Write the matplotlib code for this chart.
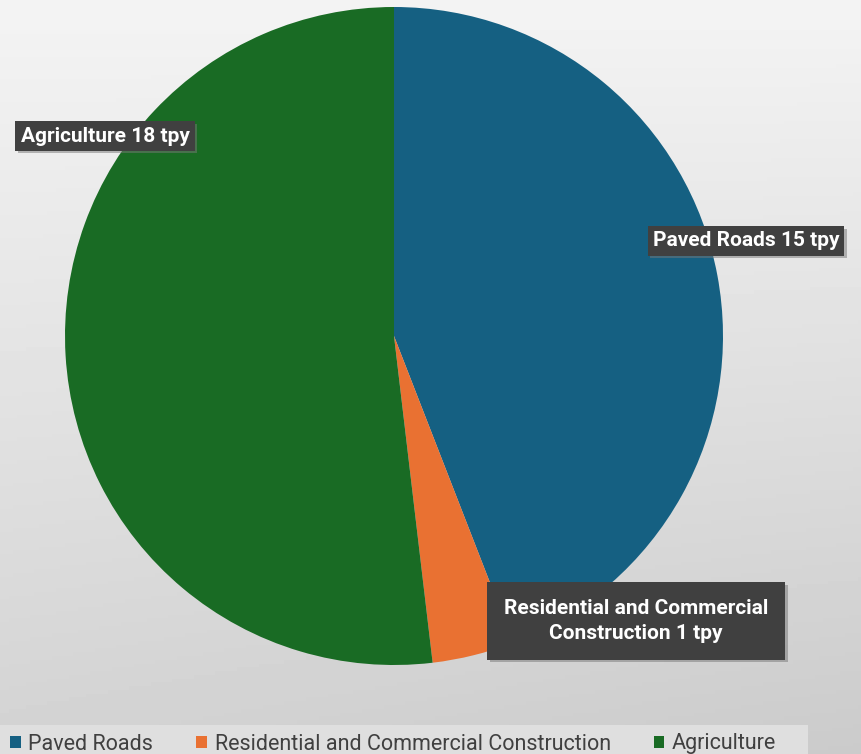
import matplotlib
matplotlib.use("Agg")
import matplotlib.pyplot as plt
import matplotlib.patheffects as pe
import numpy as np
from matplotlib.patches import Rectangle


categories = ["Paved Roads", "Residential and Commercial Construction", "Agriculture"]
emissions_tpy = [15.3, 1.4, 18.0]
slice_colors = ["#156082", "#E97132", "#196B24"]
label_texts = ["Paved Roads {:.0f} tpy",
               "Residential and Commercial\nConstruction {:.0f} tpy",
               "Agriculture {:.0f} tpy"]

W, H = 862, 754
FONT = ["Roboto", "DejaVu Sans"]

fig = plt.figure(figsize=(W / 100, H / 100), dpi=100)

# background: soft grey gradient, lighter at the top
bg = fig.add_axes([0, 0, 1, 1], zorder=0)
yy, xx = np.mgrid[0:1:200j, 0:1:200j]
shade = 0.955 - 0.13 * yy - 0.03 * xx * yy
bg.imshow(shade, cmap="gray", vmin=0, vmax=1, aspect="auto", extent=[0, 1, 0, 1], origin="upper")
bg.add_patch(Rectangle((0, 0), 808 / W, 29 / H, facecolor="#dfdfdf", edgecolor="none"))
bg.set_xlim(0, 1)
bg.set_ylim(0, 1)
bg.set_axis_off()

# pie axes: centre at (394, 336) px, radius 329 px
cx, cy, r = 394, 336, 329
ax = fig.add_axes([(cx - r) / W, (H - cy - r) / H, 2 * r / W, 2 * r / H], zorder=1)
wedges, _ = ax.pie(emissions_tpy, colors=slice_colors, startangle=90, counterclock=False,
                   radius=1, wedgeprops=dict(linewidth=0))
ax.set_xlim(-1, 1)
ax.set_ylim(-1, 1)
ax.set_aspect("equal")
ax.set_axis_off()

# data labels (box centres in pixels)
label_pos = [(746, 241), (636, 621), (105, 136)]
label_pad = [0.25, 0.8, 0.25]
for (px, py), pad, tmpl, val in zip(label_pos, label_pad, label_texts, emissions_tpy):
    t = fig.text(px / W, (H - py) / H, tmpl.format(val), ha="center", va="center",
                 color="white", fontsize=15, fontweight="bold", family=FONT,
                 linespacing=1.4, zorder=3,
                 bbox=dict(boxstyle="square,pad=%s" % pad, facecolor="#404040", edgecolor="none"))
    t.get_bbox_patch().set_path_effects([
        pe.SimplePatchShadow(offset=(2, -2), shadow_rgbFace="#777777", alpha=0.5),
        pe.Normal()])

leg = fig.legend(wedges, categories, loc="center left", bbox_to_anchor=(10 / W, 1 - 744 / H),
                 ncol=3, frameon=False, borderpad=0, borderaxespad=0,
                 handlelength=0.5, handleheight=0.5, handletextpad=0.35, columnspacing=2.0,
                 prop=dict(family=FONT, size=15.5))
for t in leg.get_texts():
    t.set_color("#404040")

fig.savefig("out.png", dpi=100)
